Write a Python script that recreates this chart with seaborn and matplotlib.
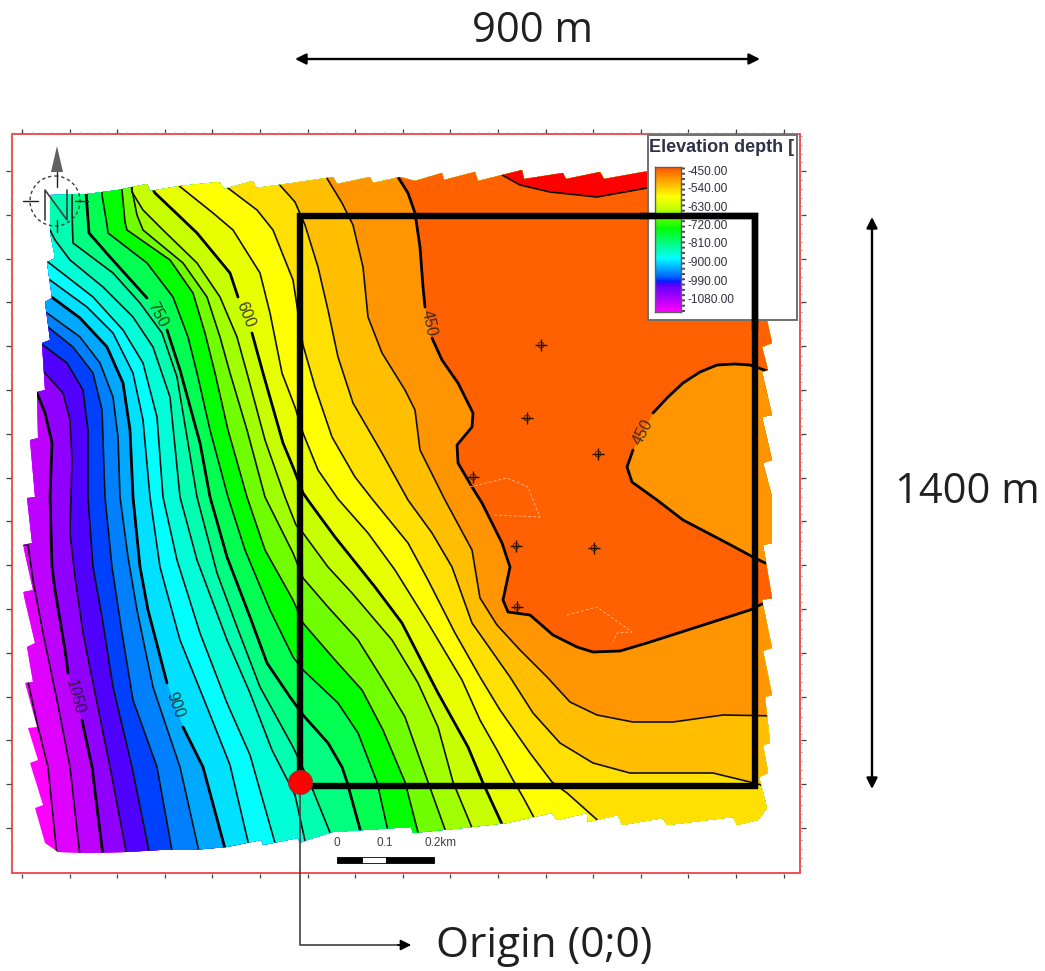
import numpy as np
import pandas as pd
import matplotlib
matplotlib.use("Agg")
import matplotlib.pyplot as plt
from matplotlib.patches import Circle, Polygon, Rectangle
import seaborn as sns

contour_1110 = [(24, 682), (28, 682), (38, 727), (48, 767), (57, 856)]
contour_1080 = [(20, 545), (28, 545), (33, 580), (43, 633), (57, 700), (70, 767), (80, 856)]
contour_1050 = [(30, 393), (37, 393), (45, 413), (52, 443), (50, 497), (52, 567), (55, 590), (65, 650), (68, 673), (82, 720), (92, 767), (103, 856)]
contour_1020 = [(38, 370), (45, 373), (63, 393), (70, 420), (72, 460), (70, 533), (75, 577), (83, 633), (95, 693), (110, 767), (127, 856)]
contour_990 = [(36, 343), (43, 345), (67, 363), (83, 390), (88, 430), (88, 497), (93, 567), (102, 617), (113, 687), (132, 767), (150, 856)]
contour_960 = [(40, 323), (48, 327), (73, 347), (93, 373), (102, 410), (105, 497), (112, 567), (122, 633), (133, 700), (157, 767), (173, 856)]
contour_930 = [(38, 307), (47, 313), (80, 337), (100, 363), (113, 397), (118, 437), (120, 497), (128, 557), (137, 610), (153, 687), (180, 767), (200, 856)]
contour_900 = [(44, 293), (53, 298), (80, 318), (107, 347), (123, 383), (130, 430), (133, 497), (140, 567), (148, 610), (167, 683), (183, 727), (203, 767), (227, 856)]
contour_870 = [(44, 276), (50, 280), (87, 307), (113, 333), (133, 373), (143, 420), (150, 497), (160, 567), (180, 640), (207, 707), (230, 765), (250, 850)]
contour_840 = [(40, 258), (48, 262), (93, 297), (123, 330), (143, 363), (157, 417), (163, 497), (177, 560), (200, 633), (227, 703), (250, 755), (277, 850)]
contour_810 = [(50, 230), (55, 240), (70, 260), (103, 287), (133, 317), (153, 347), (170, 397), (180, 497), (197, 560), (227, 640), (250, 693), (272, 750), (295, 795), (307, 850)]
contour_780 = [(72, 180), (72, 213), (73, 243), (113, 273), (140, 303), (162, 333), (177, 377), (188, 443), (197, 497), (217, 573), (237, 627), (260, 687), (293, 747), (310, 783), (333, 840)]
contour_750 = [(86, 180), (86, 192), (89, 233), (110, 257), (147, 298), (167, 330), (180, 370), (200, 443), (210, 497), (227, 557), (250, 617), (267, 663), (290, 697), (303, 715), (328, 743), (342, 767), (347, 782), (363, 840)]
contour_720 = [(102, 180), (102, 195), (107, 225), (108, 233), (147, 263), (173, 297), (188, 337), (197, 373), (210, 430), (228, 497), (245, 550), (270, 610), (293, 657), (303, 670), (338, 703), (358, 733), (377, 782), (390, 840)]
contour_690 = [(122, 175), (122, 190), (125, 222), (127, 230), (170, 260), (193, 293), (205, 333), (215, 373), (228, 430), (247, 497), (265, 550), (293, 600), (303, 623), (335, 660), (362, 690), (383, 730), (405, 782), (420, 840)]
contour_660 = [(132, 175), (132, 190), (137, 215), (143, 230), (183, 263), (207, 297), (220, 337), (230, 373), (247, 430), (265, 497), (293, 553), (303, 578), (328, 607), (358, 640), (383, 680), (405, 717), (428, 782), (447, 835)]
contour_630 = [(130, 175), (132, 192), (143, 210), (163, 230), (197, 263), (220, 297), (237, 337), (247, 373), (265, 440), (285, 497), (296, 525), (303, 533), (328, 567), (352, 593), (392, 640), (418, 683), (438, 727), (453, 782), (475, 835)]
contour_600 = [(145, 175), (155, 193), (175, 212), (197, 233), (230, 273), (238, 297), (252, 333), (263, 373), (283, 443), (293, 467), (303, 493), (310, 503), (335, 537), (375, 587), (402, 623), (438, 693), (468, 747), (483, 783), (507, 835)]
contour_570 = [(170, 175), (178, 185), (213, 213), (233, 230), (260, 273), (270, 313), (282, 373), (295, 407), (303, 433), (318, 470), (338, 499), (368, 533), (395, 570), (428, 623), (462, 680), (480, 720), (497, 750), (513, 780), (523, 797), (538, 825)]
contour_540 = [(210, 172), (220, 182), (257, 210), (273, 230), (293, 280), (303, 345), (315, 387), (332, 437), (355, 477), (373, 500), (408, 543), (428, 580), (455, 633), (480, 677), (500, 710), (530, 753), (552, 782), (567, 793), (603, 825)]
contour_510 = [(270, 172), (278, 183), (295, 202), (305, 225), (318, 267), (328, 310), (338, 357), (353, 403), (382, 453), (408, 500), (432, 533), (452, 567), (472, 623), (510, 677), (533, 713), (560, 743), (593, 763), (630, 773), (713, 773), (750, 782), (780, 790)]
contour_480 = [(322, 168), (328, 180), (342, 203), (353, 225), (363, 267), (368, 317), (382, 353), (405, 390), (415, 410), (420, 450), (445, 500), (472, 550), (480, 598), (497, 625), (520, 650), (547, 677), (570, 702), (597, 715), (633, 722), (673, 722), (723, 715), (780, 716)]
contour_450 = [(397, 165), (398, 177), (408, 193), (415, 213), (420, 247), (423, 287), (425, 307), (432, 338), (442, 360), (458, 383), (465, 397), (473, 413), (472, 427), (457, 445), (458, 463), (472, 487), (482, 503), (502, 543), (510, 567), (503, 600), (508, 612), (530, 615), (553, 635), (577, 647), (593, 652), (620, 651), (647, 643), (697, 627), (750, 610), (780, 595)]
# closed 450 line on the east side and the shallow patch along the north edge
loop_450 = [(780, 374), (770, 372), (750, 365), (735, 364), (717, 365), (700, 372), (683, 383), (668, 397), (653, 413), (633, 450), (627, 467), (632, 482), (657, 500), (683, 520), (727, 543), (753, 557), (763, 562), (780, 568)]
contour_420 = [(496, 165), (502, 175), (520, 185), (550, 192), (597, 197), (647, 188), (660, 185)]

contours = {
    1110: contour_1110, 1080: contour_1080, 1050: contour_1050, 1020: contour_1020,
    990: contour_990, 960: contour_960, 930: contour_930, 900: contour_900,
    870: contour_870, 840: contour_840, 810: contour_810, 780: contour_780,
    750: contour_750, 720: contour_720, 690: contour_690, 660: contour_660,
    630: contour_630, 600: contour_600, 570: contour_570, 540: contour_540,
    510: contour_510, 480: contour_480, 450: contour_450,
}

# colour of the band just above each contour
band_colors = {
    1110: "#E000FF", 1080: "#BE00FF", 1050: "#9000FF", 1020: "#5000FF",
    990: "#0040FF", 960: "#0080FF", 930: "#00A8FF", 900: "#00E0FF",
    870: "#00FFFF", 840: "#00FFD8", 810: "#00FFB0", 780: "#00FF80",
    750: "#00FF50", 720: "#00FF00", 690: "#70FF00", 660: "#A0FF00",
    630: "#C8FF00", 600: "#E8FF00", 570: "#FFFF00", 540: "#FFE000",
    510: "#FFBF00", 480: "#FF9500", 450: "#FF6000",
}
deepest_color = "#FF00FF"
shallowest_color = "#FF0000"

# contour labels: text, centre, angle, and the vertex the line breaks after
contour_labels = [
    ("750", 157, 315, -62, 750, (147, 298)),
    ("600", 245, 315, -68, 600, (238, 297)),
    ("450", 429, 323, -78, 450, (425, 307)),
    ("450", 643, 432, 62, 451, (653, 413)),
    ("1050", 75, 697, -75, 1050, (68, 673)),
    ("900", 175, 705, -70, 900, (167, 683)),
]

map_outline = [
    (50, 195), (87, 194), (118, 190), (147, 184), (150, 191), (180, 186), (219, 182), (224, 189),
    (253, 181), (256, 188), (293, 183), (333, 177), (337, 184), (370, 177), (373, 183), (400, 177),
    (415, 181), (442, 173), (444, 180), (475, 172), (478, 181), (502, 175), (522, 170), (524, 179),
    (563, 173), (566, 179), (600, 172), (604, 179), (643, 172), (700, 165), (765, 160),
    (767, 320), (772, 343), (762, 347), (768, 370), (762, 372), (772, 415), (762, 417), (772, 460),
    (763, 463), (772, 497), (772, 543), (763, 545), (772, 598), (762, 600), (772, 648), (763, 651),
    (772, 695), (765, 697), (770, 743), (763, 745), (768, 773), (759, 777), (767, 808), (758, 820),
    (737, 825), (733, 817), (667, 825), (663, 818), (622, 825), (618, 815), (588, 822), (587, 813),
    (557, 820), (552, 813), (507, 823), (463, 828), (413, 833), (411, 827), (333, 832), (307, 840),
    (300, 843), (298, 838), (263, 845), (261, 840), (227, 847), (193, 850), (160, 850), (127, 852),
    (87, 853), (58, 852), (45, 843), (35, 808), (43, 805), (30, 763), (38, 760), (28, 728), (37, 727),
    (25, 683), (33, 682), (27, 647), (35, 643), (23, 592), (33, 590), (23, 545), (32, 543),
    (27, 498), (35, 497), (30, 440), (38, 438), (37, 392), (45, 390), (42, 343), (50, 340),
    (45, 302), (52, 298), (47, 262), (55, 258), (50, 232),
]

well_x = [541, 527, 598, 473, 516, 594, 517]
well_y = [345, 418, 454, 477, 546, 548, 607]
fault_a = [(470, 487), (507, 478), (528, 487), (537, 510), (540, 517), (493, 515)]
fault_b = [(567, 615), (597, 607), (632, 632), (617, 633), (613, 642)]

legend_labels = ["-450.00", "-540.00", "-630.00", "-720.00", "-810.00", "-900.00", "-990.00", "-1080.00"]
legend_label_y = [172, 189, 208, 226, 244, 263, 282, 300]
gradient_colors = ["#FF5500", "#FF9500", "#FFFF00", "#C8FF00", "#00FF00", "#00FFFF", "#0060FF", "#0020FF", "#5000FF", "#FF00FF"]
gradient_stops = [0, 0.07, 0.2, 0.28, 0.42, 0.63, 0.76, 0.79, 0.81, 1.0]

sns.set_theme(style="white")
plt.rcParams["font.family"] = ["Open Sans", "DejaVu Sans"]

fig = plt.figure(figsize=(10.45, 9.71), dpi=100)
ax = fig.add_axes([0, 0, 1, 1])
ax.set_axis_off()

# map area clip
clip = Polygon(map_outline, closed=True, fc="none", ec="none", transform=ax.transData)
ax.add_patch(clip)

# bands, painted from the deepest up
ax.fill([p[0] for p in map_outline], [p[1] for p in map_outline], color=deepest_color, lw=0, zorder=1)
for level in contours:
    pts = contours[level]
    xs = [p[0] for p in pts] + [950, 950, pts[0][0]]
    ys = [p[1] for p in pts] + [950, 100, 100]
    poly = ax.fill(xs, ys, color=band_colors[level], lw=0, zorder=1)
    poly[0].set_clip_path(clip)

poly = ax.fill([p[0] for p in loop_450], [p[1] for p in loop_450], color=band_colors[480], lw=0, zorder=1)
poly[0].set_clip_path(clip)
red = ax.fill_between([p[0] for p in contour_420], [p[1] for p in contour_420], 100, color=shallowest_color, lw=0, zorder=1)
red.set_clip_path(clip)

# contour lines, every 150 is heavier, broken where a label sits
breaks = {(lab[4], lab[5]) for lab in contour_labels}
all_lines = dict(contours)
all_lines[451] = loop_450
all_lines[420] = contour_420
rows = []
for level in all_lines:
    unit = level * 10
    for pt in all_lines[level]:
        rows.append({"level": level, "unit": unit, "x": pt[0], "y": pt[1]})
        if (level, pt) in breaks:
            unit += 1
lines = pd.DataFrame(rows)
heavy = lines["level"].isin([450, 451, 600, 750, 900, 1050])

n = len(ax.lines)
sns.lineplot(data=lines[~heavy], x="x", y="y", units="unit", estimator=None, sort=False,
             color="#101010", linewidth=1.2, ax=ax, zorder=2)
sns.lineplot(data=lines[heavy], x="x", y="y", units="unit", estimator=None, sort=False,
             color="black", linewidth=2.0, ax=ax, zorder=2)
for line in ax.lines[n:]:
    line.set_clip_path(clip)
    line.set_solid_joinstyle("round")

for txt, x, y, rot, _, _ in contour_labels:
    ax.text(x, y, txt, rotation=rot, fontsize=11.5, family="Liberation Sans", color="#202020",
            alpha=0.85, ha="center", va="center", rotation_mode="anchor", zorder=3)

# wells and dashed outlines
wells = pd.DataFrame({"x": well_x, "y": well_y})
sns.scatterplot(data=wells, x="x", y="y", marker="+", s=70, color="#201000", linewidth=1.0, ax=ax, zorder=3)
sns.scatterplot(data=wells, x="x", y="y", marker="o", s=18, facecolor="none", edgecolor="#402000", linewidth=0.6, ax=ax, zorder=3)
for outline in [fault_a, fault_b]:
    ax.plot([p[0] for p in outline], [p[1] for p in outline], color="#FFB080", lw=0.7, ls=(0, (3, 2)), zorder=2)

# frame and its ticks
ax.add_patch(Rectangle((12, 134), 788, 739, fc="none", ec="#F05050", lw=1.4, zorder=4))
major_x = np.arange(22, 790, 47.6)
major_y = np.arange(171, 840, 43.8)
minor_x = np.arange(13, 800, 9.5)
minor_y = np.arange(136, 872, 8.8)
ax.vlines(major_x, 129, 133, color="#404040", lw=0.9, zorder=4)
ax.vlines(major_x, 874, 878, color="#404040", lw=0.9, zorder=4)
ax.hlines(major_y, 6, 11, color="#404040", lw=0.9, zorder=4)
ax.hlines(major_y, 801, 806, color="#404040", lw=0.9, zorder=4)
ax.vlines(minor_x, 132, 134, color="#909090", lw=0.6, zorder=4)
ax.hlines(minor_y, 10, 12, color="#909090", lw=0.6, zorder=4)
ax.hlines(minor_y, 800, 802, color="#909090", lw=0.6, zorder=4)

# north arrow
ax.add_patch(Circle((55, 201), 25, fc="none", ec="#404040", lw=1.0, ls=(0, (2.5, 2)), zorder=4))
ax.plot([23, 38], [201, 201], color="#202020", lw=1.0, zorder=4)
ax.plot([75, 88], [201, 201], color="#202020", lw=1.0, zorder=4)
ax.plot([57, 57], [172, 187], color="#202020", lw=1.0, zorder=4)
ax.plot([57, 57], [220, 232], color="#202020", lw=1.0, zorder=4)
ax.plot([45, 45, 67, 67], [220, 190, 220, 190], color="#404040", lw=1.2, zorder=4)
ax.fill([57, 51, 63], [146, 172, 172], color="#606060", lw=0, zorder=4)

# scale bar
ax.add_patch(Rectangle((337, 857), 25, 6, fc="black", ec="black", lw=0.6, zorder=4))
ax.add_patch(Rectangle((362, 857), 24, 6, fc="white", ec="black", lw=0.6, zorder=4))
ax.add_patch(Rectangle((386, 857), 48, 6, fc="black", ec="black", lw=0.6, zorder=4))
for txt, x in [("0", 337), ("0.1", 385), ("0.2km", 441)]:
    ax.text(x, 843, txt, fontsize=8.5, family="Liberation Sans", color="#404040", ha="center", va="center", zorder=4)

# legend panel
ax.add_patch(Rectangle((648, 135), 149, 185, fc="white", ec="#707070", lw=1.4, zorder=5))
ax.text(649, 148, "Elevation depth [", fontsize=13, family="Liberation Sans", weight="bold",
        color="#303048", ha="left", va="center", zorder=6, clip_on=True)
for txt, y in zip(legend_labels, legend_label_y):
    ax.text(687, y, txt, fontsize=8.6, family="Liberation Sans", color="#303040", ha="left", va="center", zorder=6)
ax.vlines(682.5, 167, 312, color="#404040", lw=2.0, ls=(0, (0.7, 1.2)), zorder=6)

# study area box
ax.add_patch(Rectangle((300, 216), 455, 570, fc="none", ec="black", lw=4.6, joinstyle="miter", zorder=8))

# origin leader
ax.plot([300, 300, 400], [790, 945, 945], color="#404040", lw=1.2, zorder=7)
ax.annotate("", xy=(414, 945), xytext=(395, 945), zorder=7,
            arrowprops=dict(arrowstyle="-|>", color="black", lw=1.2, mutation_scale=16))
origin = pd.DataFrame({"x": [300], "y": [782]})
sns.scatterplot(data=origin, x="x", y="y", s=300, color="#FF0000", edgecolor="#903040", linewidth=0.6, ax=ax, zorder=9)

# size arrows
for start, end in [((295, 59), (760, 59)), ((872, 217), (872, 789))]:
    ax.annotate("", xy=end, xytext=start, zorder=7,
                arrowprops=dict(arrowstyle="<|-|>", color="black", lw=1.7, mutation_scale=16, shrinkA=0, shrinkB=0))
ax.text(533, 31, "900 m", fontsize=30, color="#202020", ha="center", va="center")
ax.text(967, 492, "1400 m", fontsize=30, color="#202020", ha="center", va="center")
ax.text(544, 946, "Origin (0;0)", fontsize=30.5, color="#202020", ha="center", va="center")

ax.set_xlim(0, 1045)
ax.set_ylim(971, 0)
ax.set_xlabel("")
ax.set_ylabel("")

# colour bar of the legend panel
cax = fig.add_axes([655 / 1045, 1 - 312 / 971, 26 / 1045, 145 / 971], zorder=5)
gradient = sns.blend_palette(gradient_colors, n_colors=256, as_cmap=True)
stops = np.interp(np.linspace(0, 1, 145), gradient_stops, np.linspace(0, 1, len(gradient_stops)))
sns.heatmap(stops[:, None], cmap=gradient, vmin=0, vmax=1, cbar=False, xticklabels=False, yticklabels=False, ax=cax)
for spine in cax.spines.values():
    spine.set_visible(True)
    spine.set_color("#606060")
    spine.set_linewidth(1.0)

# the box runs over the colour bar as well
top = fig.add_axes([0, 0, 1, 1], zorder=6)
top.set_axis_off()
top.set_xlim(0, 1045)
top.set_ylim(971, 0)
top.plot([640, 755, 755], [216, 216, 330], color="black", lw=4.6, solid_joinstyle="miter", solid_capstyle="butt")

fig.savefig("out.png", dpi=100)
